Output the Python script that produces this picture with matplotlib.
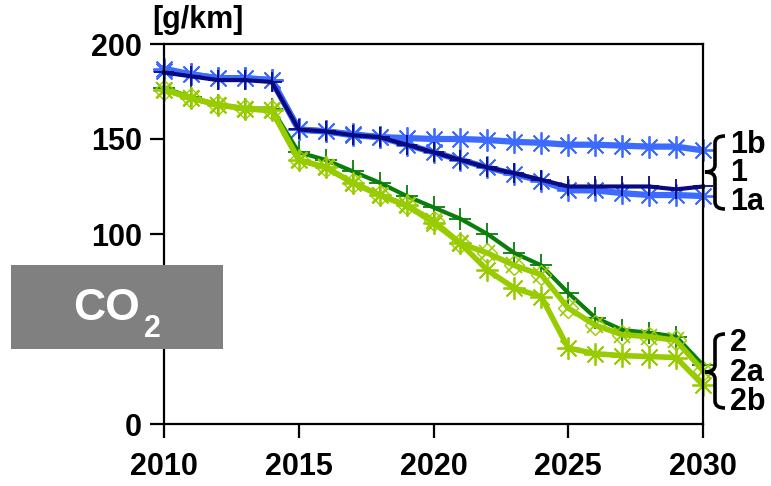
import matplotlib.pyplot as plt
from matplotlib.patches import Rectangle, PathPatch
from matplotlib.path import Path

plt.rcParams['font.family'] = ['Liberation Sans', 'DejaVu Sans']
plt.rcParams['font.weight'] = 'bold'

years = list(range(2010, 2031))

s1 = [185, 183, 181, 181, 180, 155, 154, 152, 151, 147, 143, 139, 135, 132, 128.5,
      125, 125, 125, 125, 123.5, 125]
s1a = [186, 184, 182, 182, 181, 155, 154, 152, 151, 147, 143, 139, 135, 131.5, 128,
       123, 123, 121.5, 120.5, 120.5, 120]
s1b = [187, 184, 182, 182, 181, 155, 154, 152.5, 151, 150.5, 150, 150, 149.5, 148.5,
       148, 147, 147, 146.5, 146, 146, 144]
s2 = [177, 172, 168, 166, 166, 143, 139, 133, 127, 120, 114, 108, 100, 90, 83.5,
      69, 56, 49.5, 48, 46, 31]
s2a = [176, 171.5, 168, 166, 165, 139, 135, 127, 120.5, 115, 107, 95, 90, 83.5, 78.5,
       61, 52, 47, 46, 44, 28]
s2b = [176, 171.5, 168, 166, 165, 139, 135, 127, 120.5, 115, 106, 95, 81, 71.5, 67,
       40, 37, 36, 35.5, 35, 20.5]

labels1 = ['1b', '1', '1a']
labels2 = ['2', '2a', '2b']
yticks = [0, 50, 100, 150, 200]
ytick_labels = ['0', '', '100', '150', '200']  # 50 sits under the CO2 box

c_navy = '#0a0a80'
c_blue = '#3d6bff'
c_dgreen = '#0a7d0a'
c_lgreen = '#99cc00'
star = (8, 2, 0)

W, H = 771, 486
fig = plt.figure(figsize=(W / 100, H / 100), dpi=100)
ax = fig.add_axes([164 / W, 1 - 424 / H, 539 / W, 380 / H])

ax.plot(years, s1b, color=c_blue, lw=4.5, marker=star, ms=16, mew=1.3, clip_on=False)
ax.plot(years, s1a, color=c_blue, lw=4.5, marker=star, ms=16, mew=1.3, clip_on=False)
ax.plot(years, s1, color=c_navy, lw=3, marker='+', ms=15, mew=1.3, clip_on=False)

ax.plot(years, s2, color=c_dgreen, lw=3, marker='+', ms=16, mew=1.3, clip_on=False)
ax.plot(years, s2b, color=c_lgreen, lw=4, marker=star, ms=16, mew=1.3, clip_on=False)
ax.plot(years, s2a, color=c_lgreen, lw=4, marker='x', ms=12, mew=1.3, clip_on=False)
ax.plot(years, s2a, color=c_lgreen, lw=0, marker='D', ms=10, mew=1.0, mfc='none',
        clip_on=False)

ax.set_xlim(2010, 2030)
ax.set_ylim(0, 200)
ax.set_xticks([2010, 2015, 2020, 2025, 2030])
ax.set_yticks(yticks)
ax.set_yticklabels(ytick_labels)
ax.tick_params(direction='out', length=10, width=1.6, labelsize=22, pad=6)
ax.tick_params(axis='x', pad=10)
for sp in ax.spines.values():
    sp.set_linewidth(1.6)

fig.text(198 / W, 1 - 20 / H, '[g/km]', fontsize=22, fontweight='bold',
         ha='center', va='center')


def brace(x_tip, x_end, y_top, y_tip, y_bot):
    # curly brace drawn in figure pixels, opening to the right
    xm = (x_tip + x_end) / 2
    r = 7
    pts = [(x_end, y_top), (xm, y_top), (xm, y_top + r),
           (xm, y_tip - r),
           (xm, y_tip), (x_tip, y_tip),
           (xm, y_tip), (xm, y_tip + r),
           (xm, y_bot - r),
           (xm, y_bot), (x_end, y_bot)]
    codes = [Path.MOVETO, Path.CURVE3, Path.CURVE3, Path.LINETO,
             Path.CURVE3, Path.CURVE3, Path.CURVE3, Path.CURVE3,
             Path.LINETO, Path.CURVE3, Path.CURVE3]
    pts = [(x / W, 1 - y / H) for x, y in pts]
    fig.patches.append(PathPatch(Path(pts, codes), transform=fig.transFigure,
                                 fill=False, lw=2.6, edgecolor='black',
                                 capstyle='butt'))


brace(705, 725, 136, 172, 209)
brace(705, 725, 334, 372, 408)

for lab, y in zip(labels1, [145, 173, 202]):
    fig.text(730 / W, 1 - y / H, lab, fontsize=22, fontweight='bold',
             ha='left', va='center')
for lab, y in zip(labels2, [343, 373, 402]):
    fig.text(730 / W, 1 - y / H, lab, fontsize=22, fontweight='bold',
             ha='left', va='center')

# CO2 box
box = Rectangle((11 / W, 1 - 349 / H), 212 / W, 84 / H, transform=fig.transFigure,
                facecolor='#808080', edgecolor='none', zorder=5)
fig.patches.append(box)
fig.text(106 / W, 1 - 308 / H, 'CO', fontsize=32, color='white',
         fontweight='bold', ha='center', va='center', zorder=6)
fig.text(152 / W, 1 - 329 / H, '2', fontsize=22, color='white',
         fontweight='bold', ha='center', va='center', zorder=6)

fig.savefig('out.png', dpi=100)
